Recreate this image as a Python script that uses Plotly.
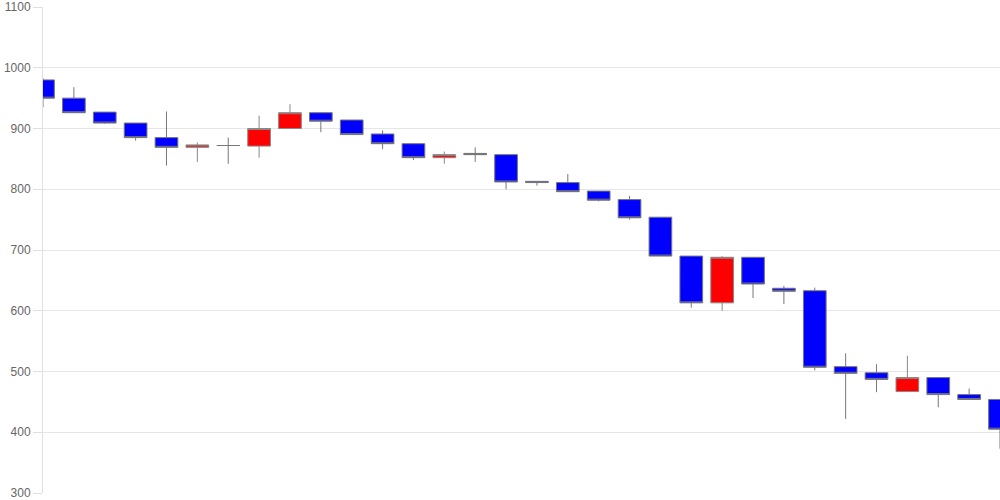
import plotly.graph_objects as go

idx = list(range(32))
opens  = [980, 950, 927, 909, 885, 869, 872, 871, 900, 926, 914, 891, 875, 852, 859, 857,
          813, 811, 797, 783, 754, 690, 613, 688, 637, 633, 508, 498, 467, 490, 462, 454]
highs  = [983, 968, 927, 909, 928, 877, 885, 921, 940, 926, 914, 897, 876, 862, 869, 857,
          813, 825, 797, 789, 754, 690, 690, 688, 641, 638, 530, 512, 526, 490, 472, 454]
lows   = [935, 926, 908, 880, 839, 845, 842, 852, 899, 894, 890, 866, 848, 842, 845, 800,
          806, 796, 780, 750, 690, 605, 600, 621, 611, 502, 422, 466, 467, 441, 454, 373]
closes = [950, 926, 909, 885, 869, 873, 872, 900, 926, 912, 890, 875, 852, 857, 857, 812,
          811, 796, 782, 753, 690, 613, 688, 644, 632, 507, 497, 487, 490, 462, 454, 405]
y_ticks = [300, 400, 500, 600, 700, 800, 900, 1000, 1100]

fig = go.Figure(go.Candlestick(
    x=idx, open=opens, high=highs, low=lows, close=closes,
    increasing=dict(fillcolor="#ff0000", line=dict(color="#888888", width=1)),
    decreasing=dict(fillcolor="#0000ff", line=dict(color="#777777", width=1)),
    whiskerwidth=0,
    showlegend=False,
))

fig.update_layout(
    width=1000, height=500,
    margin=dict(l=43, r=0, t=6, b=6),
    paper_bgcolor="white", plot_bgcolor="white",
    boxgap=0.265, boxgroupgap=0,
    font=dict(family="Liberation Sans, Arial, sans-serif", size=12, color="#666666"),
    xaxis=dict(range=[0, 31], showticklabels=False, showgrid=False, zeroline=False,
               rangeslider=dict(visible=False), showline=False, fixedrange=True),
    yaxis=dict(range=[300, 1100.01], tickvals=y_ticks,
               showgrid=True, gridcolor="#e6e6e6", ticklabeloverflow="allow",
               gridwidth=1, zeroline=False, showline=True, linecolor="#e0e0e0", linewidth=1,
               ticks="outside", ticklen=9, tickcolor="#e0e0e0",
               tickfont=dict(color="#666666", size=12)),
)

fig.write_html("out.html", config={"displayModeBar": False},
               post_script="document.body.style.margin='0';")
